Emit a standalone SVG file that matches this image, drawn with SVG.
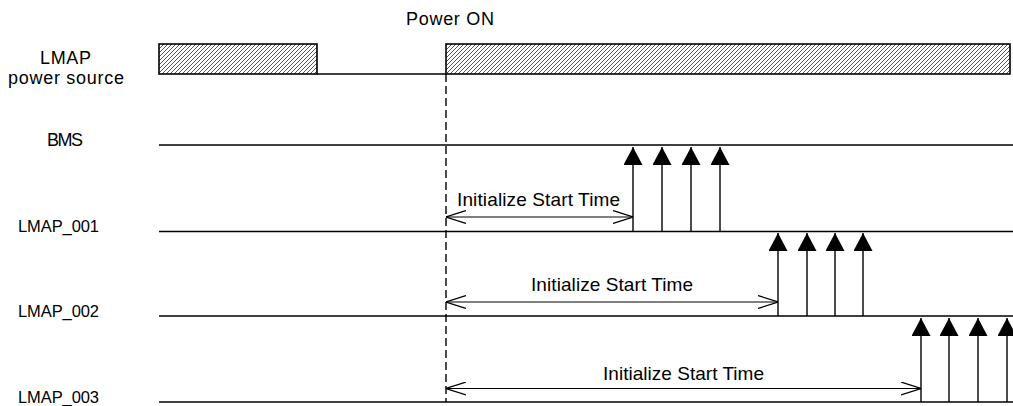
<svg xmlns="http://www.w3.org/2000/svg" width="1013" height="406" viewBox="0 0 1013 406">
  <style>
    text { font-family: "Liberation Sans", Arial, sans-serif; font-size: 18px; fill: #000; }
    .init { font-size: 19px; }
    .lane { font-size: 16.5px; }
    .sig { stroke: #000; stroke-width: 1.4; fill: none; }
    .box { stroke: #000; stroke-width: 1.6; fill: url(#hatch); }
    .dash { stroke: #000; stroke-width: 1.4; stroke-dasharray: 8 4; fill: none; }
    .dim { stroke: #000; stroke-width: 1.2; fill: none; }
    .pulse { stroke: #000; stroke-width: 1.4; fill: none; }
  </style>
  <defs>
    <pattern id="hatch" patternUnits="userSpaceOnUse" width="4" height="4">
      <rect width="4" height="4" fill="#fff"/>
      <path d="M-1,1 L1,-1 M0,4 L4,0 M3,5 L5,3" stroke="#444" stroke-width="0.9"/>
    </pattern>
    <marker id="open" viewBox="0 0 20 14" refX="20" refY="7" markerWidth="20" markerHeight="14" markerUnits="userSpaceOnUse" orient="auto-start-reverse">
      <path d="M0,0.5 L20,7 L0,13.5" fill="none" stroke="#000" stroke-width="1.2"/>
    </marker>
    <marker id="solid" viewBox="0 0 18 19" refX="18" refY="9.5" markerWidth="18" markerHeight="19" markerUnits="userSpaceOnUse" orient="auto">
      <path d="M0,0 L18,9.5 L0,19 Z" fill="#000"/>
    </marker>
  </defs>

  <g id="power-on-label"><text x="406" y="25" font-size="19" textLength="88" lengthAdjust="spacing">Power ON</text></g>

  <g id="lmap-power-source">
    <text x="40" y="64" textLength="51" lengthAdjust="spacing">LMAP</text>
    <text x="8" y="84" textLength="116" lengthAdjust="spacing">power source</text>
    <rect class="box" x="159" y="44" width="158" height="30"/>
    <path class="sig" d="M317,74 H446"/>
    <rect class="box" x="446" y="44" width="564" height="30"/>
  </g>

  <g id="bms">
    <text x="47" y="146" font-size="17" textLength="36" lengthAdjust="spacing">BMS</text>
    <path class="sig" d="M159,145 H1013"/>
  </g>

  <g id="lmap-001">
    <text class="lane" x="18" y="232" textLength="81" lengthAdjust="spacing">LMAP_001</text>
    <path class="sig" d="M159,231.5 H1013"/>
  </g>

  <g id="lmap-002">
    <text class="lane" x="18" y="317" textLength="81" lengthAdjust="spacing">LMAP_002</text>
    <path class="sig" d="M159,316 H1013"/>
  </g>

  <g id="lmap-003">
    <text class="lane" x="18" y="403" textLength="81" lengthAdjust="spacing">LMAP_003</text>
    <path class="sig" d="M159,402 H1013"/>
  </g>

  <g id="connectors">
    <path class="dash" d="M446,74 V402"/>

    <path class="dim" d="M446,217 H633" marker-start="url(#open)" marker-end="url(#open)"/>
    <text class="init" x="457" y="206" textLength="163" lengthAdjust="spacing">Initialize Start Time</text>
    <path class="dim" d="M446,302 H778" marker-start="url(#open)" marker-end="url(#open)"/>
    <text class="init" x="531" y="291" textLength="162" lengthAdjust="spacing">Initialize Start Time</text>
    <path class="dim" d="M446,388.5 H921" marker-start="url(#open)" marker-end="url(#open)"/>
    <text class="init" x="603" y="380" textLength="161" lengthAdjust="spacing">Initialize Start Time</text>

    <path class="pulse" d="M633,231.5 V147" marker-end="url(#solid)"/>
    <path class="pulse" d="M662,231.5 V147" marker-end="url(#solid)"/>
    <path class="pulse" d="M691,231.5 V147" marker-end="url(#solid)"/>
    <path class="pulse" d="M720,231.5 V147" marker-end="url(#solid)"/>

    <path class="pulse" d="M778,316 V233" marker-end="url(#solid)"/>
    <path class="pulse" d="M807,316 V233" marker-end="url(#solid)"/>
    <path class="pulse" d="M835,316 V233" marker-end="url(#solid)"/>
    <path class="pulse" d="M863,316 V233" marker-end="url(#solid)"/>

    <path class="pulse" d="M921,402 V318" marker-end="url(#solid)"/>
    <path class="pulse" d="M949,402 V318" marker-end="url(#solid)"/>
    <path class="pulse" d="M978,402 V318" marker-end="url(#solid)"/>
    <path class="pulse" d="M1007,402 V318" marker-end="url(#solid)"/>
  </g>
</svg>
